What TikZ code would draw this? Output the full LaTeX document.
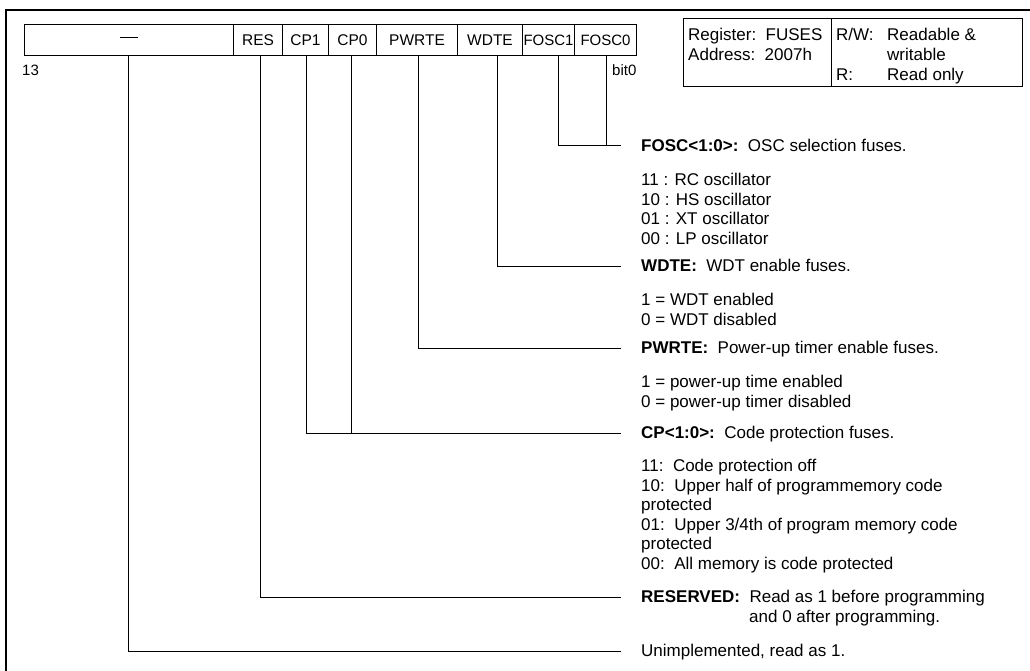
\documentclass[tikz,border=0pt]{standalone}
\usepackage{fontspec}
\setmainfont{Liberation Sans}
\begin{document}
\begin{tikzpicture}[x=1pt,y=-1pt,
  every node/.style={inner sep=0pt, font=\fontsize{15}{19.5}\selectfont},
  cell/.style={draw, line width=1pt, minimum height=31pt, anchor=north west,
    font=\fontsize{15.5}{19.5}\selectfont},
  narrowcell/.style={cell, font=\fontsize{15}{19.5}\selectfont},
  box/.style={draw, line width=1pt, anchor=north west},
  txt/.style={anchor=west, text height=11pt, text depth=0pt},
  desc/.style={txt, font=\fontsize{17}{19.5}\selectfont},
  conn/.style={line width=1pt, shorten >=20pt},
  frame/.style={line width=1.4pt}]
\useasboundingbox (0,0) rectangle (1030,671);
\clip (0,0) rectangle (1030,671);
\draw[frame] (6,10) rectangle (1045,695);
% register cells
\node[cell, minimum width=209pt] (cdash) at (24,24) {\rule[0.28em]{1.1em}{0.07em}};
\node[cell, minimum width=49pt] (res) at (233,24) {RES};
\node[cell, minimum width=46pt] (cp1) at (282,24) {CP1};
\node[cell, minimum width=48pt] (cp0) at (328,24) {CP0};
\node[cell, minimum width=81pt] (pwrte) at (376,24) {PWRTE};
\node[cell, minimum width=65pt] (wdte) at (457,24) {WDTE};
\node[narrowcell, minimum width=52pt] (fosc1) at (522,24) {FOSC1};
\node[narrowcell, minimum width=62pt] (fosc0) at (574,24) {FOSC0};
\node[txt] (b13) at (22,70) {13};
\node[txt] (b0) at (612,70) {bit0};
% info box
\node[box, minimum width=148pt, minimum height=68pt] (regbox) at (683,18) {};
\node[box, minimum width=191pt, minimum height=68pt] (rwbox) at (831,18) {};
\node[desc] (reg) at (688,35) {Register:\ \ FUSES};
\node[desc] (adr) at (688,55) {Address:\ \ 2007h};
\node[desc] (rw) at (836,35) {R/W:};
\node[desc] (rwt) at (887,35) {Readable \&};
\node[desc] (rwt2) at (887,55) {writable};
\node[desc] (r) at (836,75) {R:};
\node[desc] (rt) at (887,75) {Read only};
% descriptions
\node[desc] (fosch) at (641,146) {\textbf{FOSC<1:0>:}\ \ OSC selection fuses.};
\node[desc] (f11) at (641,180) {11 : RC oscillator};
\node[desc] (f10) at (641,199.5) {10 : HS oscillator};
\node[desc] (f01) at (641,219) {01 : XT oscillator};
\node[desc] (f00) at (641,238.5) {00 : LP oscillator};
\node[desc] (wdteh) at (641,266) {\textbf{WDTE:}\ \ WDT enable fuses.};
\node[desc] (w1) at (641,300) {1 = WDT enabled};
\node[desc] (w0) at (641,319.5) {0 = WDT disabled};
\node[desc] (pwrteh) at (641,348) {\textbf{PWRTE:}\ \ Power-up timer enable fuses.};
\node[desc] (p1) at (641,382) {1 = power-up time enabled};
\node[desc] (p0) at (641,401.5) {0 = power-up timer disabled};
\node[desc] (cph) at (641,433) {\textbf{CP<1:0>:}\ \ Code protection fuses.};
\node[desc] (c11) at (641,466) {11:\ \ Code protection off};
\node[desc] (c10) at (641,485.5) {10:\ \ Upper half of programmemory code};
\node[desc] (c10b) at (641,505) {protected};
\node[desc] (c01) at (641,524.5) {01:\ \ Upper 3/4th of program memory code};
\node[desc] (c01b) at (641,544) {protected};
\node[desc] (c00) at (641,563.5) {00:\ \ All memory is code protected};
\node[desc] (resh) at (641,597) {\textbf{RESERVED:}\ \ Read as 1 before programming};
\node[desc] (resh2) at (749,616.5) {and 0 after programming.};
\node[desc] (unimp) at (641,651) {Unimplemented, read as 1.};
% connectors
\draw[conn] ([xshift=10pt]fosc1.south) |- (fosch.west);
\draw[conn] ([xshift=0.5pt]fosc0.south) |- (fosch.west);
\draw[conn] ([xshift=7.5pt]wdte.south) |- (wdteh.west);
\draw[conn] ([xshift=1.5pt]pwrte.south) |- (pwrteh.west);
\draw[conn] ([xshift=1pt]cp1.south) |- (cph.west);
\draw[conn] ([xshift=-1pt]cp0.south) |- (cph.west);
\draw[conn] ([xshift=2.5pt]res.south) |- (resh.west);
\draw[conn] ([xshift=-0.5pt]cdash.south) |- (unimp.west);
\end{tikzpicture}
\end{document}
